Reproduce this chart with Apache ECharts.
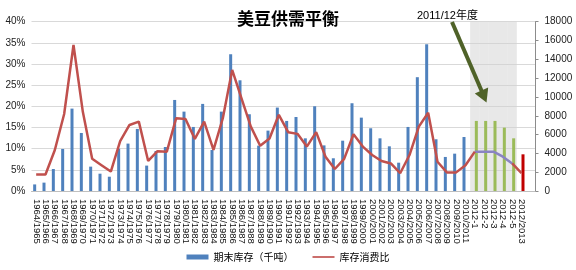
<!DOCTYPE html>
<html><head><meta charset="utf-8">
<script src="https://cdn.jsdelivr.net/npm/echarts@6/dist/echarts.min.js"></script>
<style>html,body{margin:0;padding:0;background:#fff}#c{width:576px;height:270px}</style>
</head><body><div id="c"></div>
<script>
// ---- data ----
var years = ['1964/1965','1965/1966','1966/1967','1967/1968','1968/1969','1969/1970','1970/1971','1971/1972','1972/1973','1973/1974','1974/1975','1975/1976','1976/1977','1977/1978','1978/1979','1979/1980','1980/1981','1981/1982','1982/1983','1983/1984','1984/1985','1985/1986','1986/1987','1987/1988','1988/1989','1989/1990','1990/1991','1991/1992','1992/1993','1993/1994','1994/1995','1995/1996','1996/1997','1997/1998','1998/1999','1999/2000','2000/2001','2001/2002','2002/2003','2003/2004','2004/2005','2005/2006','2006/2007','2007/2008','2008/2009','2009/2010','2010/2011'];
var forecastLabels = ['2012-1','2012-2','2012-3','2012-4','2012-5','2012/2013'];
var stocks = [700,890,2340,4470,8760,6170,2590,1840,1520,4500,5040,6600,2700,4250,4680,9680,8440,6810,9260,4360,8440,14540,11770,8160,4820,6420,8870,7450,7870,5600,9010,4850,3480,5350,9330,7800,6670,5600,4750,3010,6810,12100,15600,5500,3620,3970,5740];
var forecastStocks = [7450,7450,7450,6740,5600,3900];
var ratio = [3.9,3.9,9.7,18.2,34.5,18.7,7.6,6.1,4.6,11.8,15.6,16.4,7.1,9.4,9.3,17.2,17.0,12.3,16.4,9.7,17.2,28.6,21.9,15.2,10.7,12.4,18.0,13.9,13.5,10.5,13.9,8.1,5.2,7.6,13.4,10.5,8.5,7.1,6.5,4.2,8.5,15.2,18.5,6.9,4.4,4.4,6.1];
var forecastRatio = [9.3,9.3,9.3,8.1,6.5,4.2];
var shadeLabels = ['2012-1','2012-2','2012-3','2012-4','2012-5'];
var leftTicks = {min:0, max:40, interval:5};
var rightTicks = {min:0, max:18000, interval:2000};
var titleText = '美豆供需平衡';
var noteText = '2011/12年度';
var stockName = '期末库存（千吨）';
var ratioName = '库存消费比';

// ---- build ----
var categories = years.concat(forecastLabels, ['']);
var N = categories.length, H = years.length;
function blank(){ var a=[]; for(var i=0;i<N;i++) a.push(null); return a; }
var blueData = blank(), fcData = blank(), shadeData = blank(), redLine = blank(), purpleLine = blank();
for (var i=0;i<H;i++){ blueData[i]=stocks[i]; redLine[i]=ratio[i]; }
for (var j=0;j<forecastLabels.length;j++){
  var k = H+j;
  fcData[k] = {value: forecastStocks[j], itemStyle:{color: j===forecastLabels.length-1 ? '#c00000' : '#9bbb59'}};
  if (j===0 || j>=4) redLine[k]=forecastRatio[j];
  if (j<=4) purpleLine[k]=forecastRatio[j];
}
shadeLabels.forEach(function(l){ shadeData[categories.indexOf(l)] = rightTicks.max; });

var font = 'Liberation Sans, Arial, Noto Sans CJK SC, sans-serif';
var chart = echarts.init(document.getElementById('c'), null, {renderer:'canvas'});
chart.setOption({
  animation:false,
  textStyle:{fontFamily:font},
  title:{text:titleText, left:'center', top:5, textStyle:{fontSize:17, fontWeight:'bold', color:'#000', fontFamily:'Noto Sans CJK SC, sans-serif'}},
  grid:{left:31.5, right:40.5, top:21.7, bottom:79, containLabel:false},
  legend:{bottom:3, left:'center', itemWidth:22, itemHeight:5, itemGap:19,
    textStyle:{fontSize:10, color:'#000', fontFamily:'Noto Sans CJK SC, sans-serif'},
    data:[{name:stockName, icon:'rect'}, {name:ratioName, icon:'path://M0,0 H40 V3 H0 Z'}]},
  xAxis:[
    {type:'category', data:categories, boundaryGap:true,
     axisLine:{show:true, lineStyle:{color:'#bfbfbf'}}, axisTick:{show:false},
     axisLabel:{rotate:-90, interval:0, fontSize:9.5, color:'#111', margin:8, fontFamily:font}},
    {type:'category', data:categories, show:false, boundaryGap:true}
  ],
  yAxis:[
    {type:'value', position:'left', min:leftTicks.min, max:leftTicks.max, interval:leftTicks.interval,
     axisLabel:{formatter:'{value}%', fontSize:10, color:'#222', margin:6},
     axisLine:{show:false}, axisTick:{show:false},
     splitLine:{lineStyle:{color:'#d9d9d9', width:1}}},
    {type:'value', position:'right', min:rightTicks.min, max:rightTicks.max, interval:rightTicks.interval,
     axisLabel:{fontSize:10, color:'#222', margin:9, formatter:function(v){return String(v);}},
     axisLine:{show:true, lineStyle:{color:'#8c8c8c'}}, axisTick:{show:true, length:3, lineStyle:{color:'#8c8c8c'}},
     splitLine:{show:false}}
  ],
  series:[
    {name:'shade', type:'bar', xAxisIndex:1, yAxisIndex:1, data:shadeData, barWidth:'100%', silent:true, z:1,
     itemStyle:{color:'rgba(210,210,210,0.5)'}},
    {name:stockName, type:'bar', yAxisIndex:1, data:blueData, barWidth:3, barGap:'0%', itemStyle:{color:'#4f81bd'}, z:3},
    {name:'forecast', type:'bar', yAxisIndex:1, data:fcData, barWidth:3, barGap:'0%', itemStyle:{color:'#9bbb59'}, z:3},
    {name:ratioName, type:'line', yAxisIndex:0, data:redLine, symbol:'none', connectNulls:false,
     lineStyle:{color:'#c0504d', width:2.5}, itemStyle:{color:'#c0504d'}, z:5},
    {name:'forecastRatio', type:'line', yAxisIndex:0, data:purpleLine, symbol:'none',
     lineStyle:{color:'#8a84c2', width:2.5}, z:4}
  ],
  graphic:[
    {type:'text', z:100, left:417, top:10, style:{text:noteText, fontSize:11, fill:'#000', fontFamily:font}},
    {type:'line', z:100, shape:{x1:452, y1:22, x2:482.5, y2:93}, style:{stroke:'#4f6228', lineWidth:4}},
    {type:'polygon', z:100, shape:{points:[[486.5,102.5],[488.2,87.6],[474.8,93.4]]}, style:{fill:'#4f6228'}}
  ]
});
</script></body></html>
